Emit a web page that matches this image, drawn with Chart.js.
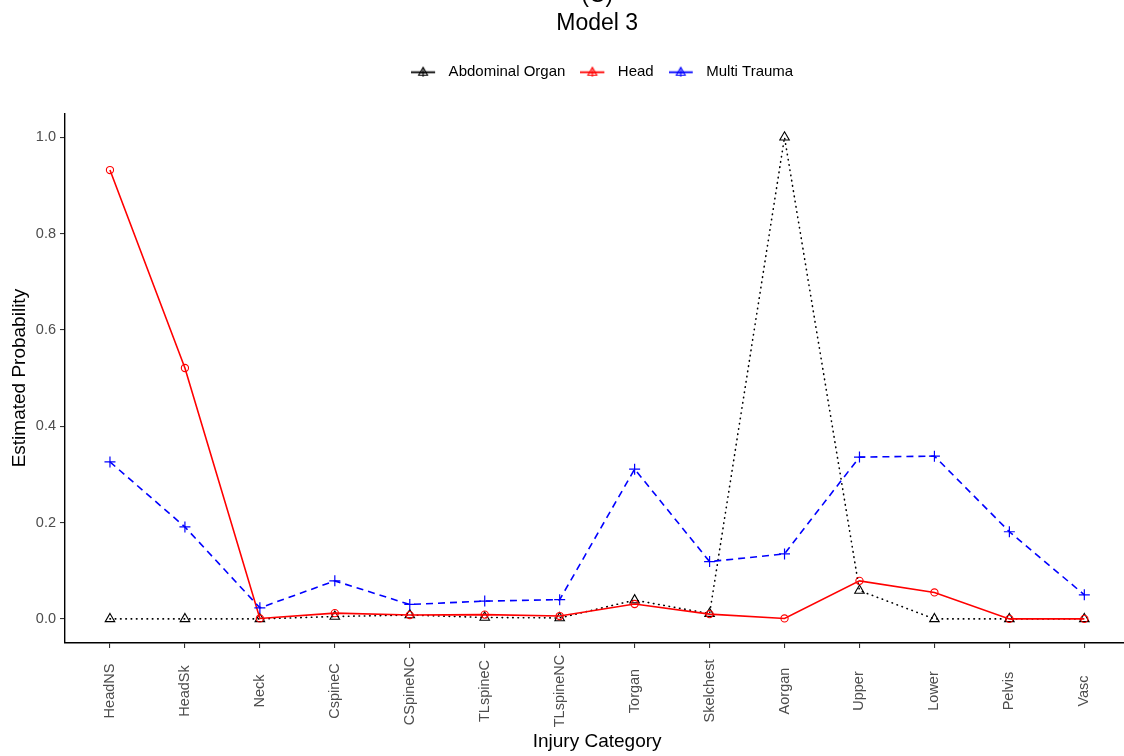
<!DOCTYPE html>
<html>
<head>
<meta charset="utf-8">
<script src="https://cdn.jsdelivr.net/npm/chart.js@4/dist/chart.umd.min.js"></script>
<style>
  html, body { margin: 0; padding: 0; background: #fff; overflow: hidden; width: 1124px; height: 756px; }
  #wrap { position: absolute; left: 0; top: -20px; width: 1136px; height: 776px; }
</style>
</head>
<body>
<div id="wrap"><canvas id="c"></canvas></div>
<script>
const categories = ['HeadNS','HeadSk','Neck','CspineC','CSpineNC','TLspineC','TLspineNC','Torgan','Skelchest','Aorgan','Upper','Lower','Pelvis','Vasc'];
const abdominalOrgan = [0, 0, 0, 0.005, 0.008, 0.003, 0.002, 0.039, 0.011, 1.0, 0.059, 0, 0, 0];
const head = [0.932, 0.521, 0.001, 0.012, 0.008, 0.009, 0.006, 0.031, 0.010, 0.001, 0.079, 0.055, 0, 0];
const multiTrauma = [0.326, 0.191, 0.023, 0.079, 0.030, 0.037, 0.040, 0.311, 0.119, 0.135, 0.336, 0.338, 0.181, 0.050];
const seriesNames = ['Abdominal Organ', 'Head', 'Multi Trauma'];
const yTicks = [0, 0.2, 0.4, 0.6, 0.8, 1.0];

const FONT = '"Liberation Sans", Arial, sans-serif';

function toPts(arr) { return arr.map((v, i) => ({ x: i, y: v })); }

function legendIcon(color) {
  const c = document.createElement('canvas');
  c.width = 30; c.height = 12;
  const g = c.getContext('2d');
  g.strokeStyle = color; g.lineWidth = 1.8;
  g.beginPath(); g.moveTo(0, 6.5); g.lineTo(24, 6.5); g.stroke();
  g.lineWidth = 1.1;
  g.beginPath(); g.moveTo(12, 1.5); g.lineTo(16.5, 9.5); g.lineTo(7.5, 9.5); g.closePath(); g.stroke();
  g.beginPath(); g.moveTo(12, 3); g.lineTo(12, 11); g.moveTo(8.5, 7); g.lineTo(15.5, 7); g.stroke();
  return c;
}

const spacerPlugin = {
  id: 'spacer',
  beforeInit(chart) {
    const box = {
      position: 'top', fullSize: false, weight: 0, options: {},
      left: 0, top: 0, right: 0, bottom: 0, width: 0, height: 0,
      isHorizontal() { return true; },
      update(maxWidth) { this.width = maxWidth; this.height = 24; return this.height; },
      draw() {}
    };
    if (Chart.layouts && Chart.layouts.addBox) {
      Chart.layouts.addBox(chart, box);
    } else {
      box._layers = function () { return [{ z: 0, draw() {} }]; };
      chart.boxes.push(box);
    }
  },
  afterLayout(chart) {
    if (chart.legend) { chart.legend.left += 5; chart.legend.right += 5; }
  }
};

// centre the rotated category labels on a common line, as in the reference
const centerXLabels = {
  id: 'centerXLabels',
  beforeDraw(chart) {
    const s = chart.scales.x;
    if (!s || typeof s.getLabelItems !== 'function') return;
    const items = s.getLabelItems(chart.chartArea);
    const cy = s.top + 48;
    items.forEach(it => {
      if (it && it.options && Array.isArray(it.options.translation)) {
        it.options.textAlign = 'center';
        it.options.translation = [it.options.translation[0], cy];
      }
    });
  }
};

const colors = ['#000000', '#ff0000', '#0000ff'];

new Chart(document.getElementById('c'), {
  type: 'line',
  data: {
    datasets: [
      {
        label: seriesNames[0], data: toPts(abdominalOrgan), order: 3,
        borderColor: '#000', borderWidth: 1.6, borderDash: [0.5, 4.8], borderCapStyle: 'round',
        pointStyle: 'triangle', pointRadius: 5.5, pointBorderWidth: 1.1,
        pointBackgroundColor: 'rgba(0,0,0,0)', pointBorderColor: '#000', tension: 0
      },
      {
        label: seriesNames[1], data: toPts(head), order: 2,
        borderColor: '#ff0000', borderWidth: 1.6,
        pointStyle: 'circle', pointRadius: 3.6, pointBorderWidth: 1.1,
        pointBackgroundColor: 'rgba(0,0,0,0)', pointBorderColor: '#ff0000', tension: 0
      },
      {
        label: seriesNames[2], data: toPts(multiTrauma), order: 1,
        borderColor: '#0000ff', borderWidth: 1.6, borderDash: [7, 5],
        pointStyle: 'cross', pointRadius: 5.5, pointBorderWidth: 1.2,
        pointBackgroundColor: 'rgba(0,0,0,0)', pointBorderColor: '#0000ff', tension: 0
      }
    ]
  },
  options: {
    responsive: true,
    maintainAspectRatio: false,
    animation: false,
    layout: { padding: { left: 0, right: 0, top: 0, bottom: 0 } },
    plugins: {
      title: {
        display: true,
        text: ['(C)', 'Model 3'],
        fullSize: false,
        color: '#000',
        font: { family: FONT, size: 23, weight: 'normal', lineHeight: 1.2 },
        padding: { top: 2, bottom: 12 }
      },
      legend: {
        display: true,
        position: 'top',
        fullSize: false,
        labels: {
          color: '#000',
          font: { family: FONT, size: 15 },
          usePointStyle: true,
          pointStyleWidth: 30,
          padding: 15,
          generateLabels(chart) {
            return seriesNames.map((n, i) => ({
              text: n, datasetIndex: i, pointStyle: legendIcon(colors[i]),
              fillStyle: colors[i], strokeStyle: colors[i], lineWidth: 0, fontColor: '#000', hidden: false
            }));
          }
        }
      },
      tooltip: { enabled: false }
    },
    scales: {
      x: {
        type: 'linear',
        min: -0.6, max: 13.6,
        afterBuildTicks(scale) { scale.ticks = categories.map((c, i) => ({ value: i })); },
        afterFit(scale) { scale.height = 113; },
        ticks: {
          autoSkip: false, minRotation: 90, maxRotation: 90,
          color: '#4d4d4d', font: { family: FONT, size: 14.5 }, padding: 3,
          callback(v) { return categories[v]; }
        },
        grid: { drawOnChartArea: false, drawTicks: true, tickLength: 5, color: '#333333', lineWidth: 1.1 },
        border: { display: true, color: '#000', width: 1.4 },
        title: {
          display: true, text: 'Injury Category', color: '#000',
          font: { family: FONT, size: 19 }, padding: { top: 0, bottom: 2.6 }
        }
      },
      y: {
        type: 'linear',
        min: -0.05, max: 1.05,
        afterBuildTicks(scale) { scale.ticks = yTicks.map(v => ({ value: v })); },
        afterFit(scale) { scale.width = 65; },
        ticks: {
          color: '#4d4d4d', font: { family: FONT, size: 14.5 }, padding: 4,
          callback(v) { return Number(v).toFixed(1); }
        },
        grid: { drawOnChartArea: false, drawTicks: true, tickLength: 5, color: '#333333', lineWidth: 1.1 },
        border: { display: true, color: '#000', width: 1.4 },
        title: {
          display: true, text: 'Estimated Probability', color: '#000',
          font: { family: FONT, size: 19 }, padding: { top: 8.6, bottom: 0 }
        }
      }
    }
  },
  plugins: [spacerPlugin, centerXLabels]
});
</script>
</body>
</html>
